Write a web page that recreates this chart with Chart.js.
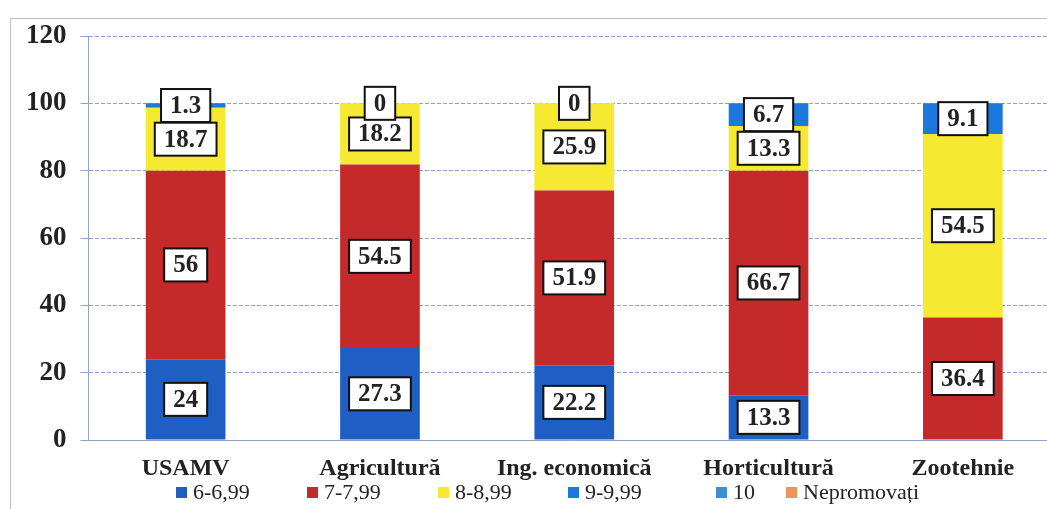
<!DOCTYPE html>
<html>
<head>
<meta charset="utf-8">
<script src="https://cdn.jsdelivr.net/npm/chart.js@4"></script>
<style>
  html, body { margin: 0; padding: 0; background: #fff; overflow: hidden; }
  #wrap { position: relative; width: 1047px; height: 509px; overflow: hidden; }
  #frame { position: absolute; left: 10px; top: 18px; width: 1100px; height: 500px; border: 1px solid #b8c0d0; }
  canvas { position: absolute; left: 0; top: 0; }
  #legend { position: absolute; left: 0; top: 478px; width: 1047px; height: 28px;
            font-family: "Liberation Serif", "DejaVu Serif", serif; font-size: 22px; color: #222; }
  .item { position: absolute; top: 0; white-space: nowrap; line-height: 28px; }
  .item i { display: inline-block; width: 11px; height: 11px; margin-right: 6px; vertical-align: 1px; }
</style>
</head>
<body>
<div id="wrap">
  <div id="frame"></div>
  <canvas id="chart" width="1060" height="509"></canvas>
  <div id="legend"></div>
</div>
<script>
const categories = ['USAMV', 'Agricultură', 'Ing. economică', 'Horticultură', 'Zootehnie'];
const seriesNames = ['6-6,99', '7-7,99', '8-8,99', '9-9,99', '10', 'Nepromovați'];
const grade6 = [24, 27.3, 22.2, 13.3, null];
const grade7 = [56, 54.5, 51.9, 66.7, 36.4];
const grade8 = [18.7, 18.2, 25.9, 13.3, 54.5];
const grade9 = [1.3, 0, 0, 6.7, 9.1];
const grade10 = [null, null, null, null, null];
const failed = [null, null, null, null, null];
const yTicks = [0, 20, 40, 60, 80, 100, 120];

const colors = ['#1f5fc4', '#c42a2a', '#f6e931', '#1c78de', '#3f8fcf', '#f19355'];
const seriesData = [grade6, grade7, grade8, grade9, grade10, failed];
const legendLeft = [176, 307, 438, 568, 716, 786];

const serif = '"Liberation Serif", "DejaVu Serif", serif';

// boxed value labels drawn on each segment
const boxLabels = {
  id: 'boxLabels',
  afterDatasetsDraw(chart) {
    const ctx = chart.ctx;
    ctx.save();
    ctx.font = 'bold 25px ' + serif;
    ctx.textAlign = 'center';
    ctx.textBaseline = 'middle';
    chart.data.datasets.forEach((ds, i) => {
      const meta = chart.getDatasetMeta(i);
      meta.data.forEach((bar, j) => {
        const v = ds.data[j];
        if (v === null || v === undefined) return;
        const cy = (bar.y + bar.base) / 2;
        const txt = String(v);
        const w = ctx.measureText(txt).width + 18;
        const h = 33;
        ctx.fillStyle = '#fff';
        ctx.fillRect(bar.x - w / 2, cy - h / 2, w, h);
        ctx.lineWidth = 2;
        ctx.strokeStyle = '#111';
        ctx.strokeRect(bar.x - w / 2, cy - h / 2, w, h);
        ctx.fillStyle = '#222';
        ctx.fillText(txt, bar.x, cy + 1);
      });
    });
    ctx.restore();
  }
};

const chart = new Chart(document.getElementById('chart').getContext('2d'), {
  type: 'bar',
  data: {
    labels: categories,
    datasets: seriesNames.map((name, i) => ({
      label: name,
      data: seriesData[i],
      backgroundColor: colors[i],
      borderWidth: 0
    }))
  },
  options: {
    responsive: false,
    animation: false,
    layout: { padding: { left: 12, top: 36, right: 0, bottom: 0 } },
    datasets: { bar: { barPercentage: 0.82, categoryPercentage: 0.5 } },
    scales: {
      x: {
        stacked: true,
        grid: { display: false, drawTicks: false },
        border: { display: true, color: '#8fa3c8', dash: [4, 2] },
        ticks: { color: '#222', font: { family: serif, size: 24, weight: 'bold' }, padding: 14 },
        afterFit: scale => { scale.height = 69; }
      },
      y: {
        stacked: true,
        min: 0,
        max: 120,
        afterBuildTicks: axis => { axis.ticks = yTicks.map(v => ({ value: v })); },
        grid: { color: '#8fa3c8', tickLength: 8, borderDash: [4, 2] },
        border: { display: true, color: '#8fa3c8', dash: [4, 2] },
        ticks: { color: '#222', font: { family: serif, size: 27, weight: 'bold' }, padding: 14 }
      }
    },
    plugins: {
      legend: { display: false },
      tooltip: { enabled: false }
    }
  },
  plugins: [boxLabels]
});

// legend sits tight under the category labels, like the original
const legendEl = document.getElementById('legend');
chart.data.datasets.forEach((ds, i) => {
  const item = document.createElement('span');
  item.className = 'item';
  item.style.left = legendLeft[i] + 'px';
  const mark = document.createElement('i');
  mark.style.background = ds.backgroundColor;
  item.appendChild(mark);
  item.appendChild(document.createTextNode(ds.label));
  legendEl.appendChild(item);
});
</script>
</body>
</html>
